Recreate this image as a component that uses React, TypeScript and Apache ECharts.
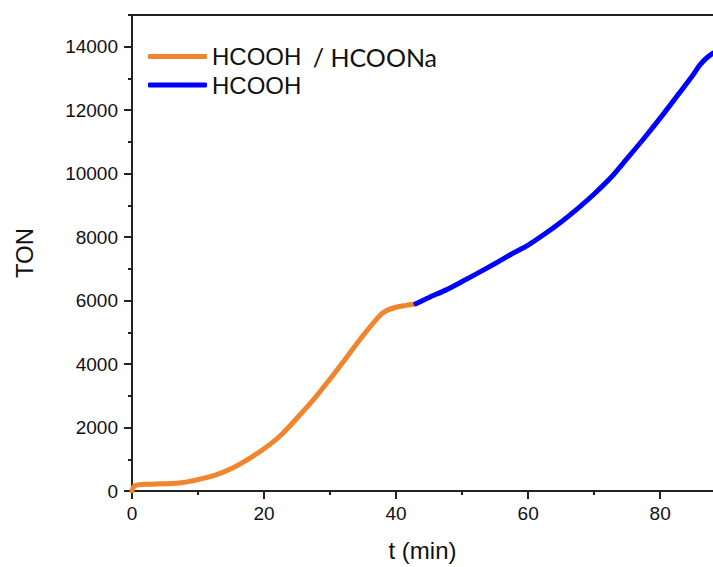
import React, { useEffect, useRef } from "react";
import * as echarts from "echarts";

const orangeT = [0, 0.2, 0.5, 1, 2, 3, 5, 7.5, 10, 12.5, 15, 17.5, 20, 22.5, 25, 27.5, 30, 32.5, 35, 37.5, 38.5, 40, 41.5, 43];
const orangeV = [0, 120, 170, 200, 210, 215, 225, 260, 360, 490, 700, 990, 1330, 1750, 2300, 2880, 3530, 4210, 4900, 5520, 5680, 5790, 5850, 5900];

const blueT = [43, 45, 47.5, 50, 52.5, 55, 57.5, 60, 62.5, 65, 67.5, 70, 72.5, 75, 77.5, 80, 82.5, 85, 86, 87, 88];
const blueV = [5900, 6100, 6330, 6600, 6880, 7170, 7470, 7750, 8100, 8480, 8900, 9360, 9870, 10480, 11100, 11750, 12430, 13120, 13420, 13640, 13800];

const xMajor = [0, 20, 40, 60, 80];
const xMinor = [10, 30, 50, 70];
const yMajor = [0, 2000, 4000, 6000, 8000, 10000, 12000, 14000];
const yMinor = [1000, 3000, 5000, 7000, 9000, 11000, 13000, 15000];

const seriesNames = ["HCOOH / HCOONa", "HCOOH"];

const FONT = "'Liberation Sans', Arial, sans-serif";
const AXIS = "#222";

export default function App() {
  const ref = useRef<HTMLDivElement>(null);
  useEffect(() => {
    if (!ref.current) return;
    const chart = echarts.init(ref.current, undefined, { renderer: "svg" });
    const lineAxis = { show: true, onZero: false, lineStyle: { color: AXIS, width: 2 } };
    chart.setOption({
      animation: false,
      backgroundColor: "#fff",
      grid: { left: 132, top: 15, right: 0, bottom: 76, containLabel: false },
      legend: {
        orient: "vertical",
        left: 148,
        top: 44,
        padding: 0,
        itemWidth: 59,
        itemHeight: 5,
        itemGap: 4,
        icon: "roundRect",
        data: seriesNames,
        formatter: (name: string) =>
          name === seriesNames[0] ? "{a|HCOOH}{b| / HCOONa}" : "{a|HCOOH}",
        textStyle: {
          rich: {
            a: { fontFamily: FONT, fontSize: 24, color: "#111" },
            b: { fontFamily: "Lato, 'Open Sans', sans-serif", fontSize: 25, color: "#111", padding: [0, 0, 0, 5] },
          },
        },
      },
      xAxis: [
        {
          type: "value",
          min: 0,
          max: 88,
          position: "bottom",
          axisLine: lineAxis,
          axisTick: { show: true, customValues: xMajor, length: 8, lineStyle: { color: AXIS, width: 2 } },
          axisLabel: { customValues: xMajor, fontSize: 19, fontFamily: FONT, color: "#111", margin: 13, formatter: (v: number) => String(v) },
          splitLine: { show: false },
          name: "t (min)",
          nameLocation: "middle",
          nameGap: 47,
          nameTextStyle: { fontSize: 24, fontFamily: FONT, color: "#111" },
        },
        {
          type: "value",
          min: 0,
          max: 88,
          position: "bottom",
          axisLine: { show: false, onZero: false },
          axisTick: { show: true, customValues: xMinor, length: 4, lineStyle: { color: AXIS, width: 2 } },
          axisLabel: { show: false },
          splitLine: { show: false },
        },
        {
          type: "value",
          min: 0,
          max: 88,
          position: "top",
          axisLine: lineAxis,
          axisTick: { show: false },
          axisLabel: { show: false },
          splitLine: { show: false },
        },
      ],
      yAxis: [
        {
          type: "value",
          min: 0,
          max: 15000,
          position: "left",
          axisLine: lineAxis,
          axisTick: { show: true, customValues: yMajor, length: 8, lineStyle: { color: AXIS, width: 2 } },
          axisLabel: { customValues: yMajor, fontSize: 19, fontFamily: FONT, color: "#111", margin: 14, formatter: (v: number) => String(v) },
          splitLine: { show: false },
          name: "TON",
          nameLocation: "middle",
          nameGap: 96,
          nameTextStyle: { fontSize: 24, fontFamily: FONT, color: "#111" },
        },
        {
          type: "value",
          min: 0,
          max: 15000,
          position: "left",
          axisLine: { show: false, onZero: false },
          axisTick: { show: true, customValues: yMinor, length: 4, lineStyle: { color: AXIS, width: 2 } },
          axisLabel: { show: false },
          splitLine: { show: false },
        },
      ],
      series: [
        {
          name: seriesNames[0],
          type: "line",
          xAxisIndex: 0,
          yAxisIndex: 0,
          showSymbol: false,
          smooth: 0.3,
          color: "#F0852D",
          lineStyle: { width: 5, color: "#F0852D", cap: "round" },
          data: orangeT.map((t, i) => [t, orangeV[i]]),
          z: 3,
        },
        {
          name: seriesNames[1],
          type: "line",
          xAxisIndex: 0,
          yAxisIndex: 0,
          showSymbol: false,
          smooth: 0.3,
          color: "#0000FF",
          lineStyle: { width: 5, color: "#0000FF", cap: "round" },
          data: blueT.map((t, i) => [t, blueV[i]]),
          z: 4,
        },
      ],
    });
    return () => chart.dispose();
  }, []);
  return (
    <div
      ref={ref}
      style={{ position: "absolute", left: 0, top: 0, width: 713, height: 567, background: "#fff" }}
    />
  );
}
